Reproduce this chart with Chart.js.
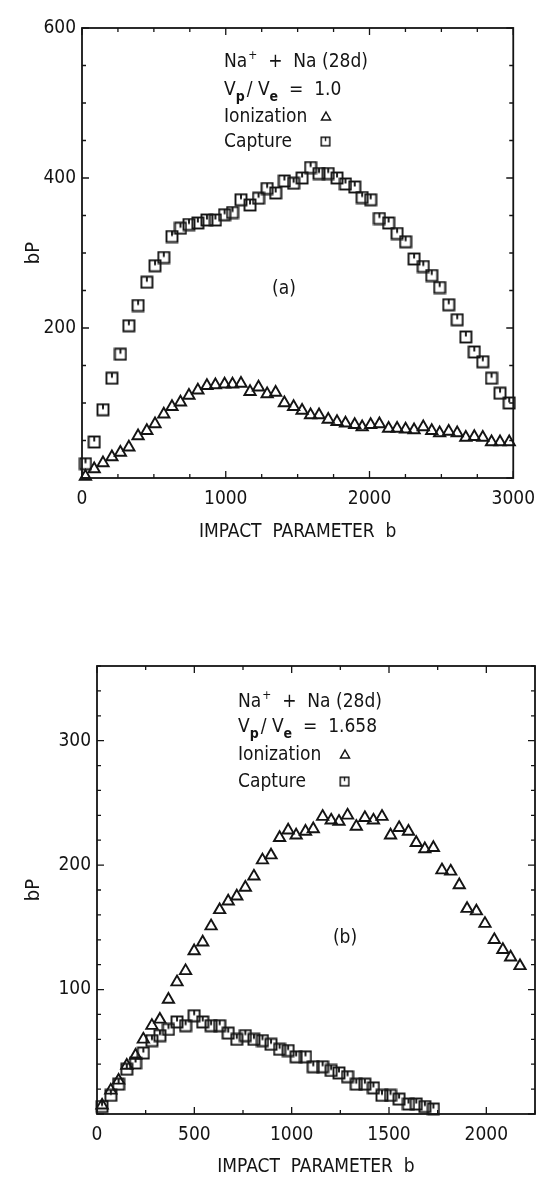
<!DOCTYPE html>
<html>
<head>
<meta charset="utf-8">
<script src="https://cdn.jsdelivr.net/npm/chart.js@4"></script>
<style>
  body { margin: 0; background: #fff; }
  canvas.panel { position: absolute; left: 0; }
</style>
</head>
<body>
<canvas id="chartA" class="panel" width="545" height="589" style="top:0"></canvas>
<canvas id="chartB" class="panel" width="545" height="589" style="top:589px"></canvas>
<script>
const FONT = "'DejaVu Sans Condensed', 'Liberation Sans Narrow', 'DejaVu Sans', sans-serif";
const INK = '#141414';

// panel (a)  Vp/Ve = 1.0
const bA = [24, 85, 146, 208, 267, 326, 390, 451, 508, 569, 626, 685, 744, 806, 869, 928, 992, 1047, 1106, 1169,
            1228, 1288, 1347, 1408, 1472, 1531, 1590, 1649, 1713, 1774, 1833, 1897, 1949, 2008, 2069, 2133, 2192, 2251, 2310, 2374,
            2433, 2488, 2551, 2610, 2670, 2729, 2788, 2849, 2908, 2972];
const ionA = [2, 12, 20, 28, 34, 41, 56, 63, 72, 85, 95, 101, 110, 117, 123, 124, 125, 125, 126, 115,
              121, 112, 114, 100, 95, 90, 84, 84, 78, 75, 73, 71, 68, 71, 72, 66, 66, 65, 64, 68,
              63, 60, 62, 60, 54, 55, 54, 48, 48, 48];
const capA = [19, 48, 91, 133, 165, 203, 230, 261, 283, 294, 322, 333, 338, 340, 344, 344, 351, 354, 371, 364,
              373, 386, 380, 396, 393, 400, 414, 406, 406, 400, 392, 388, 374, 371, 346, 340, 326, 315, 292, 282,
              270, 254, 231, 211, 188, 168, 155, 133, 113, 100];
const xLabelsA = [0, 1000, 2000, 3000];
const yLabelsA = [200, 400, 600];

// panel (b)  Vp/Ve = 1.658
const bB = [26, 71, 111, 153, 198, 238, 282, 323, 367, 411, 455, 499, 543, 586, 630, 674, 718, 762, 806, 850,
            894, 938, 982, 1023, 1071, 1111, 1159, 1203, 1243, 1287, 1332, 1376, 1420, 1464, 1508, 1552, 1600, 1640, 1684, 1728,
            1772, 1817, 1861, 1901, 1949, 1993, 2041, 2085, 2125, 2173];
const ionB = [7, 19, 27, 39, 47, 60, 71, 76, 92, 106, 115, 131, 138, 151, 164, 171, 175, 182, 191, 204,
              208, 222, 228, 224, 227, 229, 239, 236, 235, 240, 231, 238, 236, 239, 224, 230, 227, 218, 213, 214,
              196, 195, 184, 165, 163, 153, 140, 132, 126, 119];
const capB = [6, 15, 24, 36, 41, 49, 59, 63, 68, 74, 71, 79, 74, 71, 71, 65, 60, 63, 60, 59,
              56, 52, 51, 46, 46, 38, 38, 35, 33, 30, 24, 24, 21, 15, 15, 12, 8, 8, 6, 4];
const xLabelsB = [0, 500, 1000, 1500, 2000];
const yLabelsB = [100, 200, 300];

function makeSquare() {
  const c = document.createElement('canvas');
  c.width = 14; c.height = 14;
  const g = c.getContext('2d');
  g.strokeStyle = INK;
  g.lineWidth = 1.9;
  g.strokeRect(1.5, 1.5, 11, 11);
  g.beginPath(); g.moveTo(7, 1.5); g.lineTo(7, 6.5); g.stroke();
  return c;
}
const squareImg = makeSquare();

function run(ctx, t, x, y, size, weight) {
  ctx.font = (weight || '') + size + 'px ' + FONT;
  ctx.fillText(t, x, y);
  return x + ctx.measureText(t).width;
}

// frame + inward ticks on all four sides
const frameTicks = {
  id: 'frameTicks',
  afterDraw(chart, args, o) {
    const {ctx, chartArea: a, scales: {x, y}} = chart;
    ctx.save();
    ctx.strokeStyle = INK;
    ctx.lineWidth = 1.3;
    ctx.beginPath();
    x.ticks.forEach(t => {
      const px = x.getPixelForValue(t.value);
      const len = t.value % o.xMajor === 0 ? 7 : 4;
      ctx.moveTo(px, a.bottom); ctx.lineTo(px, a.bottom - len);
      ctx.moveTo(px, a.top); ctx.lineTo(px, a.top + len);
    });
    y.ticks.forEach(t => {
      const py = y.getPixelForValue(t.value);
      const len = t.value % o.yMajor === 0 ? 7 : 4;
      ctx.moveTo(a.left, py); ctx.lineTo(a.left + len, py);
      ctx.moveTo(a.right, py); ctx.lineTo(a.right - len, py);
    });
    ctx.stroke();
    ctx.lineWidth = 1.8;
    ctx.strokeRect(a.left, a.top, a.right - a.left, a.bottom - a.top);
    ctx.restore();
  }
};

// text block inside the plot
const notes = {
  id: 'notes',
  afterDraw(chart, args, o) {
    const ctx = chart.ctx;
    const ys = o.ys;
    ctx.save();
    ctx.fillStyle = INK;
    ctx.strokeStyle = INK;
    ctx.textAlign = 'left';
    ctx.textBaseline = 'middle';
    let x = run(ctx, 'Na', o.x, ys[0], 19);
    x = run(ctx, '+', x + 1, ys[0] - 6, 12);
    run(ctx, '  +  Na (28d)', x, ys[0], 19);
    x = run(ctx, 'V', o.x, ys[1], 19);
    x = run(ctx, 'p', x, ys[1] + 7, 14, 'bold ');
    x = run(ctx, '/ V', x + 2, ys[1], 19);
    x = run(ctx, 'e', x, ys[1] + 7, 14, 'bold ');
    run(ctx, '  =  ' + o.ratio, x, ys[1], 19);
    run(ctx, 'Ionization', o.x, ys[2], 19);
    run(ctx, 'Capture', o.x, ys[3], 19);
    // legend symbols
    ctx.lineWidth = 1.5;
    ctx.beginPath();
    ctx.moveTo(o.symX, ys[2] - 5);
    ctx.lineTo(o.symX + 4.5, ys[2] + 3);
    ctx.lineTo(o.symX - 4.5, ys[2] + 3);
    ctx.closePath();
    ctx.stroke();
    ctx.drawImage(squareImg, o.symX - 6, ys[3] - 6, 11, 11);
    ctx.textAlign = 'center';
    run(ctx, o.tag, o.tagX, o.tagY, 19);
    ctx.restore();
  }
};

function chartConfig(p) {
  const tickFont = {family: FONT, size: 19};
  return {
    type: 'scatter',
    data: {
      datasets: [{
        label: 'Ionization',
        data: p.b.map((b, i) => ({x: b, y: p.ion[i]})),
        pointStyle: 'triangle',
        radius: 6.5,
        borderWidth: 1.9,
        borderColor: INK,
        backgroundColor: 'rgba(255,255,255,0)',
        clip: false
      }, {
        label: 'Capture',
        data: p.cap.map((v, i) => ({x: p.b[i], y: v})),
        pointStyle: squareImg,
        clip: false
      }]
    },
    options: {
      responsive: false,
      animation: false,
      events: [],
      layout: { padding: {top: p.padTop, right: p.padRight, left: 0, bottom: 0} },
      plugins: {
        legend: { display: false },
        tooltip: { enabled: false },
        frameTicks: { xMajor: p.xMajor, yMajor: p.yMajor },
        notes: p.notes
      },
      scales: {
        x: {
          type: 'linear', min: 0, max: p.xMax,
          afterFit: s => { s.height = p.xHeight; },
          grid: { display: false, drawTicks: false },
          border: { display: false },
          ticks: {
            stepSize: 250, autoSkip: false, maxRotation: 0, padding: 10,
            color: INK, font: tickFont,
            callback: v => p.xLabels.includes(v) ? v : ''
          },
          title: {
            display: true, text: 'IMPACT  PARAMETER  b', color: INK,
            font: {family: FONT, size: 19},
            padding: {top: 0, bottom: p.titleBottom}
          }
        },
        y: {
          type: 'linear', min: 0, max: p.yMax,
          afterFit: s => { s.width = p.yWidth; },
          grid: { display: false, drawTicks: false },
          border: { display: false },
          ticks: {
            stepSize: p.yStep, autoSkip: false, padding: 6,
            color: INK, font: tickFont,
            callback: v => p.yLabels.includes(v) ? v : ''
          },
          title: {
            display: true, text: 'bP', color: INK,
            font: {family: FONT, size: 20},
            padding: {top: 22, bottom: 0}
          }
        }
      }
    },
    plugins: [frameTicks, notes]
  };
}

new Chart(document.getElementById('chartA'), chartConfig({
  b: bA, ion: ionA, cap: capA,
  xMax: 3000, yMax: 600, yStep: 50, xMajor: 1000, yMajor: 200,
  xLabels: xLabelsA, yLabels: yLabelsA,
  padTop: 28, padRight: 22, yWidth: 82, xHeight: 111, titleBottom: 46,
  notes: { x: 224, ys: [62, 90, 117, 142], ratio: '1.0', symX: 326, tag: '(a)', tagX: 284, tagY: 289 }
}));

new Chart(document.getElementById('chartB'), chartConfig({
  b: bB, ion: ionB, cap: capB,
  xMax: 2250, yMax: 360, yStep: 20, xMajor: 500, yMajor: 100,
  xLabels: xLabelsB, yLabels: yLabelsB,
  padTop: 77, padRight: 5, yWidth: 97, xHeight: 64, titleBottom: 0,
  notes: { x: 238, ys: [113, 138, 166, 193], ratio: '1.658', symX: 345, tag: '(b)', tagX: 345, tagY: 349 }
}));
</script>
</body>
</html>
